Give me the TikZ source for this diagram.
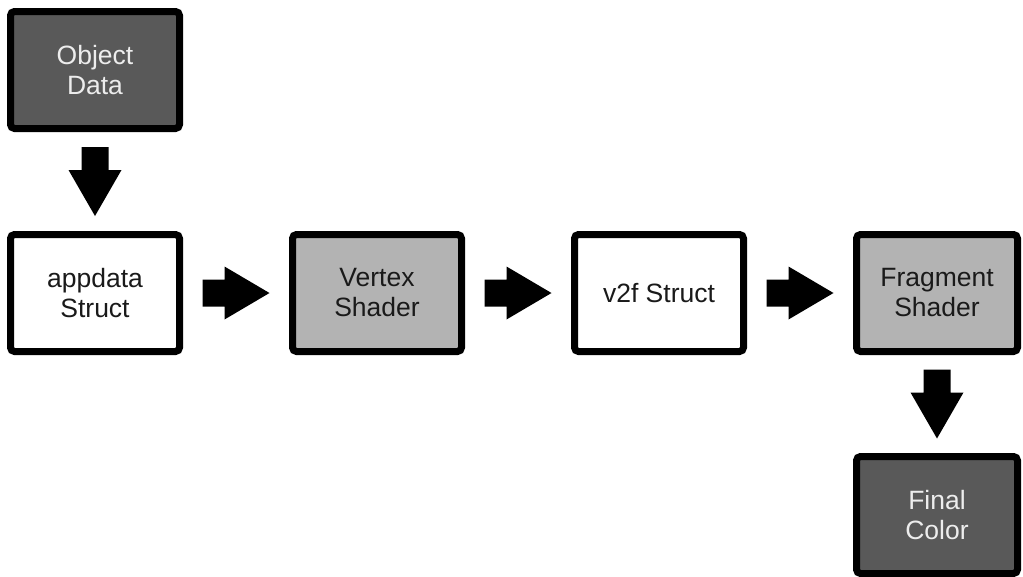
\documentclass[tikz,border=0pt]{standalone}
\usepackage{fontspec}
\setmainfont{Liberation Sans}
\usetikzlibrary{calc}
\definecolor{darkfill}{HTML}{595959}
\definecolor{lightfill}{HTML}{B3B3B3}
\definecolor{paletext}{HTML}{EDEDED}
\definecolor{inktext}{HTML}{1A1A1A}
\tikzset{
  stage/.style={draw=black, line width=7pt, rounded corners=4pt,
    minimum width=169pt, minimum height=117pt, inner sep=0pt,
    align=center, font=\fontsize{26.5pt}{30pt}\selectfont},
  plainbox/.style={stage, fill=white, text=inktext},
  shaderbox/.style={stage, fill=lightfill, text=inktext},
  databox/.style={stage, fill=darkfill, text=paletext},
  narrow/.style={minimum width=161pt},
  pics/rightblock/.style={code={
    \fill[black] (-33.5,-13.5) -- (-11.5,-13.5) -- (-11.5,-26.5) -- (33.5,0)
      -- (-11.5,26.5) -- (-11.5,13.5) -- (-33.5,13.5) -- cycle;}},
  pics/downblock/.style={code={
    \fill[black] (-13.5,-34.5) -- (13.5,-34.5) -- (13.5,-11.5) -- (26.5,-11.5)
      -- (0,34.5) -- (-26.5,-11.5) -- (-13.5,-11.5) -- cycle;}}
}
\begin{document}
\begin{tikzpicture}[x=1pt, y=-1pt]
\useasboundingbox (0,0) rectangle (1023,576);
\fill[white] (0,0) rectangle (1023,576);

% pipeline stages
\node[databox]   (obj)  at (95,70)   {Object\\Data};
\node[plainbox]  (app)  at (95,293)  {appdata\\Struct};
\node[shaderbox] (vs)   at (377,293) {Vertex\\Shader};
\node[plainbox]  (v2f)  at (659,293) {v2f Struct};
\node[shaderbox, narrow] (fs)  at (937,293) {Fragment\\Shader};
\node[databox, narrow]   (fin) at (937,515) {Final\\Color};

% block arrows between stages
\pic at ($(obj.south)!0.5!(app.north)$) {downblock};
\pic at ($(app.east)!0.5!(vs.west)$) {rightblock};
\pic at ($(vs.east)!0.5!(v2f.west)$) {rightblock};
\pic at ($(v2f.east)!0.5!(fs.west)$) {rightblock};
\pic at ($(fs.south)!0.5!(fin.north)$) {downblock};
\end{tikzpicture}
\end{document}
